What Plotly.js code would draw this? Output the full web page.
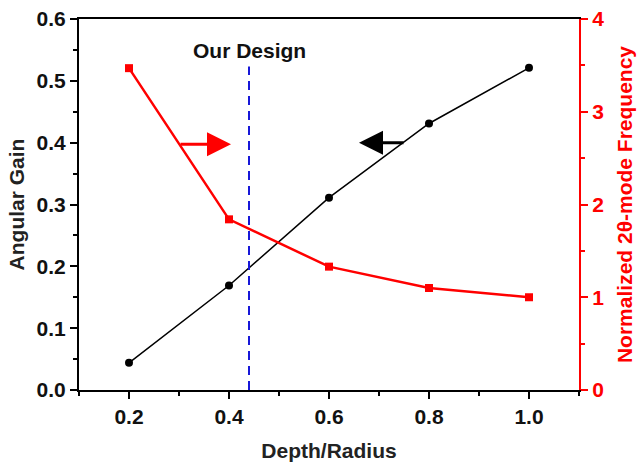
<!DOCTYPE html>
<html>
<head>
<meta charset="utf-8">
<script src="https://cdn.plot.ly/plotly-3.0.1.min.js"></script>
<style>html,body{margin:0;padding:0;background:#fff;}#chart{width:637px;height:462px;}</style>
</head>
<body>
<div id="chart"></div>
<script>
const depthRadius = [0.2, 0.4, 0.6, 0.8, 1.0];
const angularGain = [0.044, 0.169, 0.311, 0.431, 0.521];
const normFreq = [3.47, 1.84, 1.33, 1.10, 1.00];
const designX = 0.44;

const fam = 'Liberation Sans, Arial, sans-serif';
const fs = 21;

const traces = [
  {x: depthRadius, y: angularGain, type: 'scatter', mode: 'lines+markers',
   line: {color: '#000', width: 1.5}, marker: {symbol: 'circle', size: 8, color: '#000'},
   yaxis: 'y', showlegend: false},
  {x: depthRadius, y: normFreq, type: 'scatter', mode: 'lines+markers',
   line: {color: '#ff0000', width: 2.5}, marker: {symbol: 'square', size: 8, color: '#ff0000'},
   yaxis: 'y2', showlegend: false}
];

const layout = {
  width: 637, height: 462,
  margin: {l: 79, r: 58, t: 19, b: 72},
  paper_bgcolor: '#fff', plot_bgcolor: '#fff',
  font: {family: fam, size: fs, color: '#111'},
  xaxis: {
    range: [0.1, 1.1], tickvals: [0.2, 0.4, 0.6, 0.8, 1.0], ticktext: ['0.2','0.4','0.6','0.8','1.0'],
    ticks: 'outside', ticklen: 7, tickwidth: 2, tickcolor: '#000',
    minor: {ticks: 'outside', ticklen: 4, tickwidth: 2, tickcolor: '#000', dtick: 0.1, tick0: 0.1},
    showline: true, linecolor: '#000', linewidth: 2, mirror: true,
    showgrid: false, zeroline: false,
    tickfont: {family: fam, size: fs, color: '#111', weight: 'bold'},
    title: {text: '<b>Depth/Radius</b>', font: {family: fam, size: fs, color: '#222'}, standoff: 18}
  },
  yaxis: {
    range: [0, 0.6], tickvals: [0, 0.1, 0.2, 0.3, 0.4, 0.5, 0.6],
    ticktext: ['0.0','0.1','0.2','0.3','0.4','0.5','0.6'],
    ticks: 'outside', ticklen: 7, tickwidth: 2, tickcolor: '#000',
    minor: {ticks: 'outside', ticklen: 4, tickwidth: 2, tickcolor: '#000', dtick: 0.05, tick0: 0},
    showline: true, linecolor: '#000', linewidth: 2,
    showgrid: false, zeroline: false,
    tickfont: {family: fam, size: fs, color: '#111', weight: 'bold'},
    title: {text: '<b>Angular Gain</b>', font: {family: fam, size: fs, color: '#222'}, standoff: 6}
  },
  yaxis2: {
    range: [0, 4], tickvals: [0, 1, 2, 3, 4],
    overlaying: 'y', side: 'right', anchor: 'x',
    ticks: 'outside', ticklen: 7, tickwidth: 2, tickcolor: '#ff0000',
    minor: {ticks: 'outside', ticklen: 4, tickwidth: 2, tickcolor: '#ff0000', dtick: 0.5, tick0: 0},
    showline: true, linecolor: '#ff0000', linewidth: 2,
    showgrid: false, zeroline: false,
    tickfont: {family: fam, size: fs, color: '#ff0000', weight: 'bold'},
    title: {text: '<b>Normalized 2θ-mode Frequency</b>', font: {family: fam, size: fs, color: '#ff0000'}, standoff: 14}
  },
  shapes: [
    {type: 'line', xref: 'x', yref: 'y', x0: designX, x1: designX, y0: 0, y1: 0.523,
     line: {color: '#1818d8', width: 2, dash: '9px,6px'}}
  ],
  annotations: [
    {xref: 'x', yref: 'paper', x: designX, y: 0.952, text: '<b>Our Design</b>', showarrow: false,
     font: {family: fam, size: fs, color: '#111'}},
    {xref: 'x', yref: 'y2', x: 0.404, y: 2.65, axref: 'x', ayref: 'y2', ax: 0.30, ay: 2.65,
     text: '', showarrow: true, arrowhead: 2, arrowsize: 1.6, arrowwidth: 3, arrowcolor: '#ff0000', standoff: 0},
    {xref: 'x', yref: 'y', x: 0.660, y: 0.40, axref: 'x', ayref: 'y', ax: 0.752, ay: 0.40,
     text: '', showarrow: true, arrowhead: 2, arrowsize: 1.6, arrowwidth: 3, arrowcolor: '#000', standoff: 0}
  ]
};

Plotly.newPlot('chart', traces, layout, {displayModeBar: false, staticPlot: true});
</script>
</body>
</html>
